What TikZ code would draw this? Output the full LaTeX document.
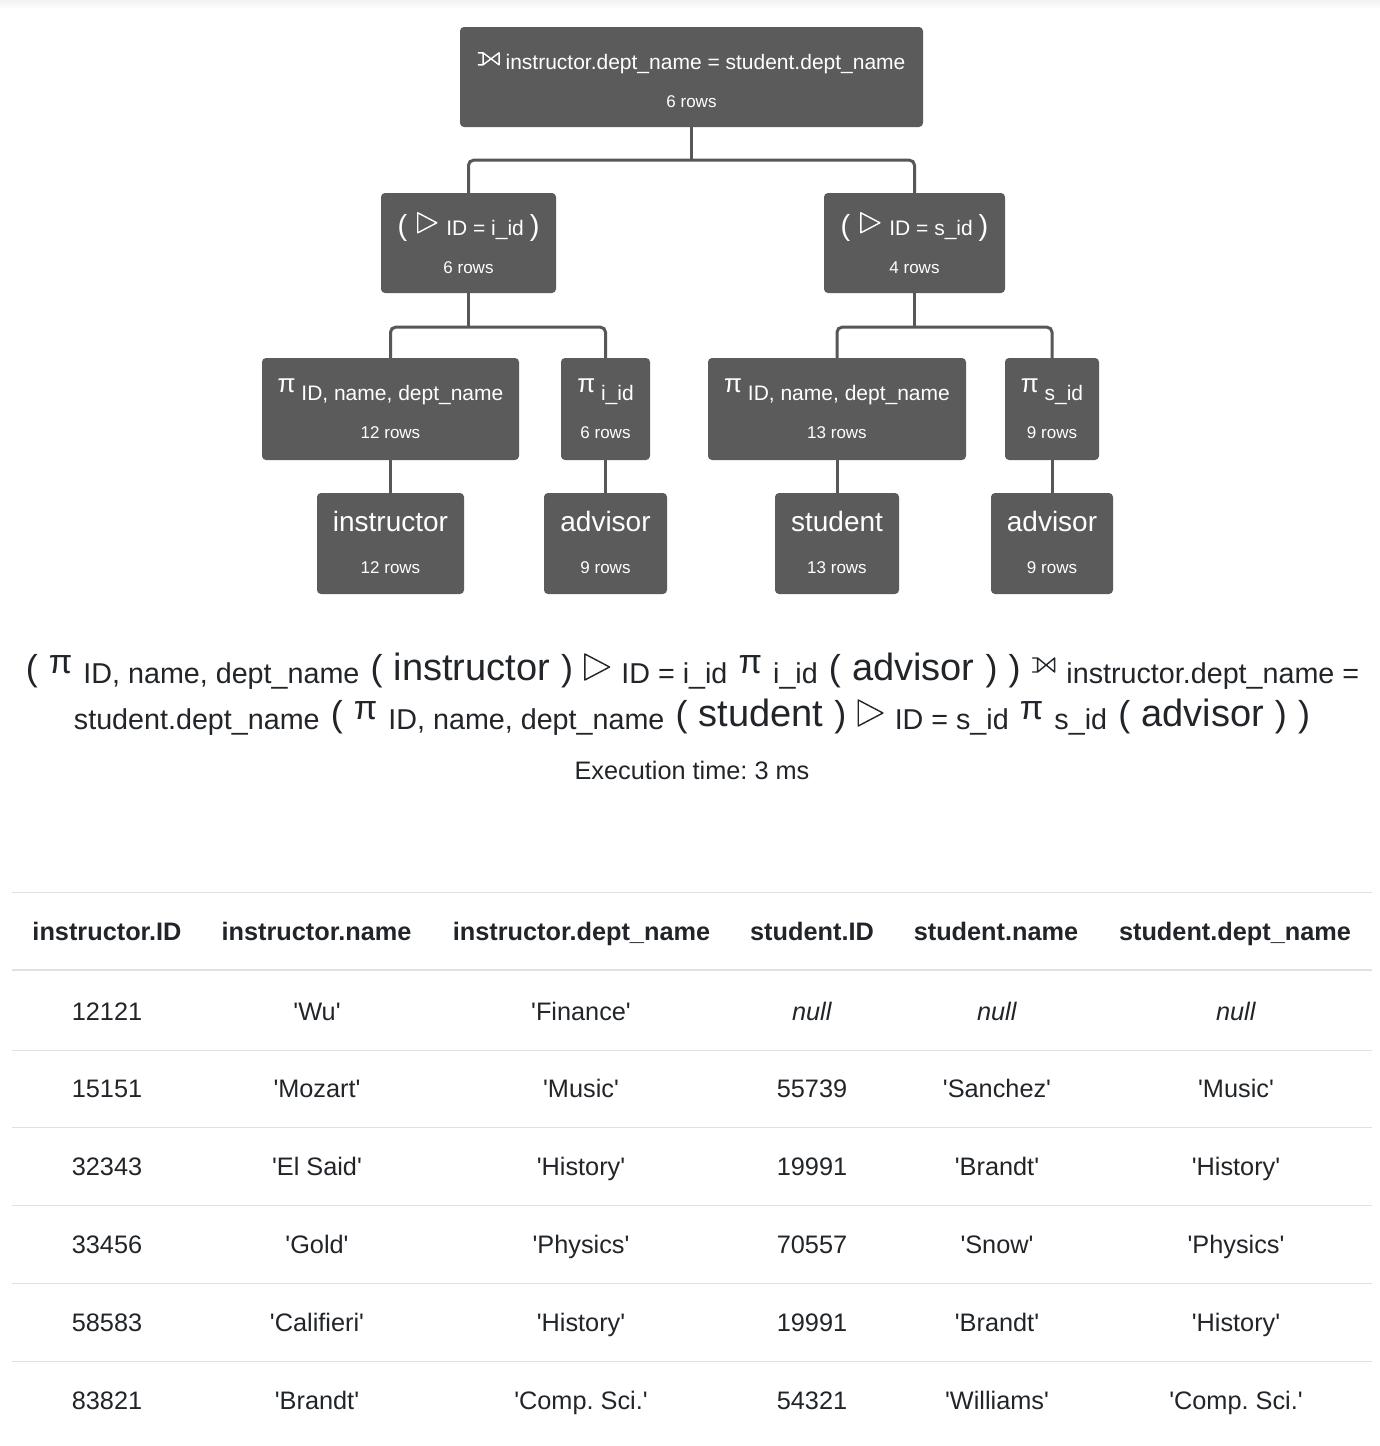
\documentclass[tikz,border=0pt]{standalone}
\usepackage{fontspec}
\setmainfont{Liberation Sans}
\usetikzlibrary{positioning, calc}
\frenchspacing

\definecolor{nodegray}{HTML}{5B5B5B}
\definecolor{linegray}{HTML}{575757}
\definecolor{cellink}{HTML}{212529}
\definecolor{rulegray}{HTML}{DEE2E6}

\newcommand{\opfont}{\fontsize{21}{25}\selectfont}
\newcommand{\rowsfont}{\fontsize{17}{20}\selectfont}
\newcommand{\leaffont}{\fontsize{28}{32}\selectfont}
\newcommand{\cellfont}{\fontsize{25.3}{30}\selectfont}
\newcommand{\q}[1]{\textquotesingle#1\textquotesingle}
\newcommand{\nullcell}{\textit{null}}

\tikzset{
    opbox/.style = {fill=nodegray, rounded corners=4pt, inner sep=0pt},
    optext/.style = {text=white, inner sep=0pt, anchor=base, font=\opfont},
    rowtext/.style = {text=white, inner sep=0pt, anchor=base, font=\rowsfont},
    leaftext/.style = {optext, font=\leaffont},
    link/.style = {line width=3pt, draw=linegray, rounded corners=5pt},
    symbol/.style = {line width=1.4pt, line join=round, line cap=round},
    head/.style = {anchor=base, inner sep=0pt, text=cellink, font=\cellfont\bfseries},
    cell/.style = {anchor=base, inner sep=0pt, text=cellink, font=\cellfont},
    expr/.style = {anchor=base, inner sep=0pt, text=cellink, font=\fontsize{40}{46}\selectfont},
    rule thin/.style = {draw=rulegray, line width=1pt},
    rule thick/.style = {draw=rulegray, line width=2.5pt},
}

%% Operator symbols, drawn so that no font is needed for them
\newcommand{\antijoin}[2]{%
  %% 1. size, 2. raise above the baseline
  \tikz[baseline=-#2] \draw [symbol] (0pt,0pt) -- (0pt,#1) -- (0.95*#1,0.5*#1) -- cycle;%
}
\newcommand{\leftjoin}[3]{%
  %% 1. width, 2. height, 3. raise above the baseline
  \tikz[baseline=-#3] \draw [symbol] (0pt,0pt) -- (0pt,#2) -- (#1,0pt) -- (#1,#2) -- cycle
    (0pt,0pt) -- (-0.3*#1,0pt) (0pt,#2) -- (-0.3*#1,#2);%
}
\newcommand{\treepi}{\raisebox{8pt}{\fontsize{26}{30}\selectfont π}}
\newcommand{\treeparen}[1]{{\fontsize{29}{34}\selectfont #1}}
\newcommand{\bigpi}{\raisebox{7pt}{\fontsize{34}{38}\selectfont π}}
\newcommand{\bigp}[1]{{\fontsize{36}{42}\selectfont #1}}
\newcommand{\rel}[1]{{\fontsize{38}{44}\selectfont #1}}
\newcommand{\lowsub}[1]{\raisebox{-3pt}{\fontsize{28.7}{34}\selectfont #1}}

\newcommand{\opnode}[6]{%
  %% Draw one operator of the plan:
  %%    1. name, 2. centre, 3. width, 4. height, 5. operator, 6. row count
  \node [opbox, minimum width=#3, minimum height=#4] (#1) at (#2) {};
  \node [optext] (#1_op) at ([yshift=-43pt] #1.north) {#5};
  \node [rowtext] (#1_rows) at ([yshift=-81pt] #1.north) {#6};
}
\newcommand{\leafnode}[6]{%
  \node [opbox, minimum width=#3, minimum height=#4] (#1) at (#2) {};
  \node [leaftext] (#1_op) at ([yshift=-39pt] #1.north) {#5};
  \node [rowtext] (#1_rows) at ([yshift=-81pt] #1.north) {#6};
}

\begin{document}
\begin{tikzpicture}[x=1pt, y=-1pt]
    \fill [white] (0,0) rectangle (1380,1446);
    \useasboundingbox (0,0) rectangle (1380,1446);
    \shade [top color=black!5, bottom color=white] (0,0) rectangle (1380,9);

    %% The query plan, one level after the other
    \opnode{join}{691.5,77}{463pt}{100pt}
      {\leftjoin{16pt}{12pt}{5pt} instructor.dept\_name = student.dept\_name}{6 rows}

    \opnode{semi_i}{468.5,243}{175pt}{100pt}
      {\treeparen{(}\hspace{4pt} \antijoin{20pt}{3pt}\hspace{3pt} ID = i\_id \treeparen{)}}{6 rows}
    \opnode{semi_s}{914.5,243}{181pt}{100pt}
      {\treeparen{(}\hspace{4pt} \antijoin{20pt}{3pt}\hspace{3pt} ID = s\_id \treeparen{)}}{4 rows}

    \opnode{proj_i}{390.5,409}{257pt}{102pt}{\treepi{} ID, name, dept\_name}{12 rows}
    \opnode{proj_ia}{605.5,409}{89pt}{102pt}{\treepi{} i\_id}{6 rows}
    \opnode{proj_s}{837,409}{258pt}{102pt}{\treepi{} ID, name, dept\_name}{13 rows}
    \opnode{proj_sa}{1052,409}{94pt}{102pt}{\treepi{} s\_id}{9 rows}

    \leafnode{instructor}{390.5,543.5}{147pt}{101pt}{instructor}{12 rows}
    \leafnode{advisor_i}{605.5,543.5}{123pt}{101pt}{advisor}{9 rows}
    \leafnode{student}{837,543.5}{124pt}{101pt}{student}{13 rows}
    \leafnode{advisor_s}{1052,543.5}{122pt}{101pt}{advisor}{9 rows}

    %% Links from every operator down to its inputs
    \coordinate (join_bar) at ([yshift=-33pt] join.south);
    \draw [link] (join.south) -- (join_bar);
    \draw [link] (semi_i.north) -- (semi_i.north |- join_bar)
      -- (semi_s.north |- join_bar) -- (semi_s.north);

    \coordinate (semi_i_bar) at ([yshift=-34pt] semi_i.south);
    \draw [link] (semi_i.south) -- (semi_i_bar);
    \draw [link] (proj_i.north) -- (proj_i.north |- semi_i_bar)
      -- (proj_ia.north |- semi_i_bar) -- (proj_ia.north);

    \coordinate (semi_s_bar) at ([yshift=-34pt] semi_s.south);
    \draw [link] (semi_s.south) -- (semi_s_bar);
    \draw [link] (proj_s.north) -- (proj_s.north |- semi_s_bar)
      -- (proj_sa.north |- semi_s_bar) -- (proj_sa.north);

    \draw [link] (proj_i) -- (instructor);
    \draw [link] (proj_ia) -- (advisor_i);
    \draw [link] (proj_s) -- (student);
    \draw [link] (proj_sa) -- (advisor_s);

    %% The same query written as one expression
    \node [expr] (expr_1) at (692.5,680) {\bigp{(} \bigpi{} \lowsub{ID, name, dept\_name}
      \bigp{(} \rel{instructor} \bigp{)} \antijoin{26pt}{0pt} \lowsub{ID = i\_id}
      \bigpi{} \lowsub{i\_id} \bigp{(} \rel{advisor} \bigp{)} \bigp{)}
      \leftjoin{17pt}{14pt}{8pt} \lowsub{instructor.dept\_name =}};
    \node [expr] (expr_2) at (692,726) {\lowsub{student.dept\_name} \bigp{(} \bigpi{}
      \lowsub{ID, name, dept\_name} \bigp{(} \rel{student} \bigp{)} \antijoin{26pt}{0pt}
      \lowsub{ID = s\_id} \bigpi{} \lowsub{s\_id} \bigp{(} \rel{advisor} \bigp{)} \bigp{)}};
    \node [cell] (exec_time) at (692,779) {Execution time: 3 ms};

    %% Result table
    \draw [rule thin] (12,892) -- (1372,892);
    \draw [rule thick] (12,970) -- (1372,970);
    \foreach \x/\t [count=\c] in {107/instructor.ID, 316.5/instructor.name,
        581.5/instructor.dept\_name, 812/student.ID, 996/student.name,
        1235/student.dept\_name}{%
      \node [head] (head_\c) at (\x,940) {\t};
    }
    \foreach \a/\b/\cc/\d/\e/\f [count=\r] in {
        12121/\q{Wu}/\q{Finance}/\nullcell/\nullcell/\nullcell,
        15151/\q{Mozart}/\q{Music}/55739/\q{Sanchez}/\q{Music},
        32343/\q{El Said}/\q{History}/19991/\q{Brandt}/\q{History},
        33456/\q{Gold}/\q{Physics}/70557/\q{Snow}/\q{Physics},
        58583/\q{Califieri}/\q{History}/19991/\q{Brandt}/\q{History},
        83821/\q{Brandt}/\q{Comp. Sci.}/54321/\q{Williams}/\q{Comp. Sci.}}{%
      \pgfmathsetmacro{\rowy}{1020 + 77.8*(\r-1)}
      \node [cell] (cell_\r_1) at (107,\rowy) {\a};
      \node [cell] (cell_\r_2) at (317,\rowy) {\b};
      \node [cell] (cell_\r_3) at (581,\rowy) {\cc};
      \node [cell] (cell_\r_4) at (812,\rowy) {\d};
      \node [cell] (cell_\r_5) at (997,\rowy) {\e};
      \node [cell] (cell_\r_6) at (1236,\rowy) {\f};
      \ifnum\r<6
        \draw [rule thin] (12,\rowy+30) -- (1372,\rowy+30);
      \fi
    }
\end{tikzpicture}
\end{document}
